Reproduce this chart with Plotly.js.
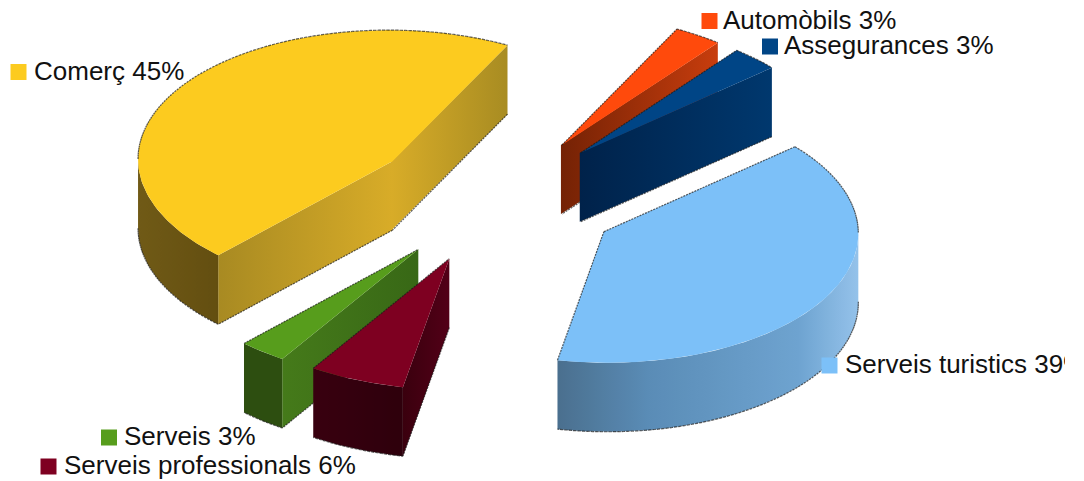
<!DOCTYPE html>
<html>
<head>
<meta charset="utf-8">
<script src="https://cdn.plot.ly/plotly-3.0.1.min.js"></script>
<style>html,body{margin:0;padding:0;background:#fff}#chart{width:1084px;height:481px}</style>
</head>
<body>
<div id="chart"></div>
<script>
// --- chart values, in pie order (clockwise, starting from the top right) ---
const categories = ["Automòbils", "Assegurances", "Serveis turistics", "Serveis professionals", "Serveis", "Comerç"];
const shares = [3, 3, 39, 6, 3, 45];

// --- styles, same order ---
const topColors = ["#ff4a0c", "#004586", "#7cc0f8", "#7e0021", "#579d1c", "#fccb1f"];
const radialShades = [
  ["#742205", "#c83d0d"], ["#00224a", "#00386e"], ["#4a7296", "#7fb4e0"],
  ["#3a000e", "#520017"], ["#457a1a", "#386816"], ["#a88a22", "#d8ac28"]
];
const radialShadesEnd = [
  ["#742205", "#c83d0d"], ["#00224a", "#00386e"], ["#4a7296", "#7fb4e0"],
  ["#3a000e", "#520017"], ["#457a1a", "#386816"], ["#d8ac28", "#a88c22"]
];
const arcShades = [
  [["#742205", 0], ["#c83d0d", 1]], [["#00224a", 0], ["#00386e", 1]],
  [["#4a6f8e", 0], ["#5a8cb6", .3], ["#6ea3d0", .8], ["#94c2ea", 1]],
  [["#38000f", 0], ["#2e000c", 1]], [["#2d4e10", 0], ["#2d4e10", 1]], [["#705a16", 0], ["#634e10", 1]]
];
// legend anchors: swatch centre and text start
const swatchX = [709.5, 770, 829.5, 48.5, 109, 18.5];
const swatchY = [21, 46.5, 365.5, 466.5, 437.5, 72];
const textX = [723, 784, 845, 64, 124, 34];
const textY = swatchY.map(y => y + 1);

// --- projection of the tilted pie ---
const centre = [495, 199], axisA = [115, -116], axisB = [227, 61], pull = 0.492, depth = 69;
const project = (u, r, c) => {
  const t = u * Math.PI / 180;
  return [c[0] + r * (axisA[0] * Math.cos(t) + axisB[0] * Math.sin(t)),
          c[1] + r * (axisA[1] * Math.cos(t) + axisB[1] * Math.sin(t))];
};
const total = shares.reduce((a, b) => a + b, 0);

let start = 0;
const slices = shares.map((v, i) => {
  const u0 = start, u1 = start + v / total * 360;
  start = u1;
  const apex = project((u0 + u1) / 2, pull, centre);
  const arc = [];
  const n = Math.max(4, Math.ceil(u1 - u0));
  for (let k = 0; k <= n; k++) arc.push(project(u0 + (u1 - u0) * k / n, 1, apex));
  return { i, apex, arc };
});

const traces = [];
const toTrace = (pts, scale) => ({
  type: "scatter", mode: "lines", hoverinfo: "skip",
  x: pts.map(p => p[0]).concat([pts[0][0]]), y: pts.map(p => p[1]).concat([pts[0][1]]),
  fill: "toself", line: { width: 0 },
  fillcolor: scale[0],
  fillgradient: { type: "horizontal", colorscale: scale.map((s, k) => [k / (scale.length - 1), s]) }
});
const wall = (a, b) => a.concat(b.slice().reverse().map(p => [p[0], p[1] + depth]));

slices.slice().sort((p, q) => p.apex[1] - q.apex[1]).forEach(s => {
  const i = s.i;
  // radial wall running out of the apex to the arc start
  if (s.arc[0][0] < s.apex[0])
    traces.push(toTrace([s.arc[0], s.apex, [s.apex[0], s.apex[1] + depth], [s.arc[0][0], s.arc[0][1] + depth]], radialShades[i]));
  // radial wall coming back from the arc end to the apex (1px overlap hides the seam)
  const e = s.arc[s.arc.length - 1];
  if (s.apex[0] < e[0])
    traces.push(toTrace([[s.apex[0] - 1, s.apex[1]], e, [e[0], e[1] + depth], [s.apex[0] - 1, s.apex[1] + depth]], radialShadesEnd[i]));
  // outer wall: only the part of the arc that runs leftwards faces the viewer
  const vis = s.arc.filter((p, k) => (k > 0 && s.arc[k - 1][0] > p[0]) || (k < s.arc.length - 1 && s.arc[k + 1][0] < p[0]));
  if (vis.length > 1) {
    const stops = arcShades[i];
    const scale = [];
    for (let t = 0; t <= 20; t++) {
      const f = t / 20;
      let j = 0;
      while (j < stops.length - 2 && f > stops[j + 1][1]) j++;
      const g = (f - stops[j][1]) / (stops[j + 1][1] - stops[j][1]);
      const h = c => [1, 3, 5].map(o => parseInt(c.substr(o, 2), 16));
      const A = h(stops[j][0]), B = h(stops[j + 1][0]);
      scale.push("rgb(" + A.map((x, o) => Math.round(x + (B[o] - x) * g)).join(",") + ")");
    }
    traces.push(toTrace(wall(vis, vis), scale));
  }
  // top face
  const top = [s.apex].concat(s.arc);
  traces.push({
    type: "scatter", mode: "lines", hoverinfo: "skip",
    x: top.map(p => p[0]).concat([s.apex[0]]), y: top.map(p => p[1]).concat([s.apex[1]]),
    fill: "toself", fillcolor: topColors[i], line: { width: 0 }
  });
  // jagged dark silhouette
  const ring = top.concat([s.apex]);
  const ox = [], oy = [];
  for (let k = 0; k < ring.length - 1; k++) {
    const p = ring[k], q = ring[k + 1];
    const d = q[0] < p[0] ? depth : 0;
    ox.push(p[0], q[0], null); oy.push(p[1] + d, q[1] + d, null);
  }
  traces.push({
    type: "scatter", mode: "lines", hoverinfo: "skip", x: ox, y: oy,
    line: { width: 1.2, color: "rgba(25,25,25,0.7)", dash: "2px,1px" }
  });
});

// legend swatches and labels
traces.push({
  type: "scatter", mode: "markers", hoverinfo: "skip", x: swatchX, y: swatchY,
  marker: { symbol: "square", size: 16, color: topColors, line: { width: 0 } }
});
traces.push({
  type: "scatter", mode: "text", hoverinfo: "skip", x: textX, y: textY,
  text: categories.map((c, i) => c + " " + shares[i] + "%"),
  textposition: "middle right", cliponaxis: true,
  textfont: { family: "Liberation Sans, Arial, sans-serif", size: 26, color: "#111" }
});

Plotly.newPlot("chart", traces, {
  width: 1084, height: 481, showlegend: false, hovermode: false,
  paper_bgcolor: "#ffffff", plot_bgcolor: "#ffffff",
  margin: { l: 0, r: 19, t: 0, b: 0 },
  xaxis: { visible: false, range: [0, 1065], fixedrange: true },
  yaxis: { visible: false, range: [481, 0], fixedrange: true }
}, { displayModeBar: false, staticPlot: true });
</script>
</body>
</html>
